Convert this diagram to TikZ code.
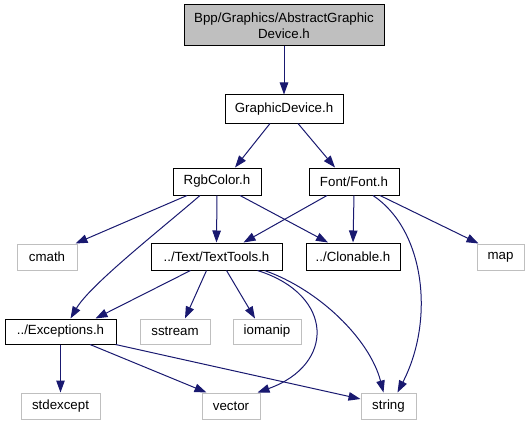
\documentclass[tikz,border=0pt]{standalone}
\usepackage{fontspec}
\setmainfont{Liberation Sans}
\usetikzlibrary{arrows.meta}
\definecolor{edgeblue}{HTML}{191970}
\definecolor{boxgray}{HTML}{BFBFBF}
\begin{document}
\begin{tikzpicture}[x=1pt,y=-1pt,
  every node/.style={font=\fontsize{13.3}{15.5}\selectfont, inner sep=0pt, align=center},
  filebox/.style={draw=black, line width=1pt, rectangle, minimum height=27pt},
  sysbox/.style={draw=boxgray, line width=1pt, rectangle, minimum height=26pt},
  topbox/.style={draw=black, fill=boxgray, line width=1pt, rectangle},
  edge/.style={draw=edgeblue, line width=1pt, -{Triangle[length=12pt,width=8.5pt]}}]
\path[use as bounding box] (0,0) rectangle (529,425);

\node[topbox, minimum width=200pt, minimum height=41pt] (top) at (284,25.5) {Bpp/Graphics/AbstractGraphic\\Device.h};
\node[filebox, minimum width=118pt, minimum height=28pt] (gd) at (284,109) {GraphicDevice.h};
\node[filebox, minimum width=88pt] (rgb) at (217,181.5) {RgbColor.h};
\node[filebox, minimum width=90pt] (font) at (354,181.5) {Font/Font.h};
\node[filebox, minimum width=131pt] (tt) at (216.5,256.5) {../Text/TextTools.h};
\node[filebox, minimum width=94pt] (clon) at (353,256.5) {../Clonable.h};
\node[sysbox, minimum width=60pt] (cmath) at (47,257) {cmath};
\node[sysbox, minimum width=47pt] (map) at (500.5,257) {map};
\node[filebox, minimum width=111pt, minimum height=25pt] (exc) at (60.5,331.5) {../Exceptions.h};
\node[sysbox, minimum width=70pt, minimum height=25pt] (sstream) at (175,331.5) {sstream};
\node[sysbox, minimum width=68pt, minimum height=25pt] (iomanip) at (267,331.5) {iomanip};
\node[sysbox, minimum width=79pt] (stdexcept) at (60.5,406) {stdexcept};
\node[sysbox, minimum width=58pt] (vector) at (231,406) {vector};
\node[sysbox, minimum width=55pt] (string) at (388.5,406) {string};

\draw[edge] (top.south) -- (gd.north);
\draw[edge] ([xshift=-14pt]gd.south) -- ([xshift=18pt]rgb.north);
\draw[edge] ([xshift=14pt]gd.south) -- ([xshift=-19pt]font.north);

\draw[edge] ([xshift=-30pt]rgb.south) -- ([xshift=-2pt]cmath.north east);
\draw[edge] ([xshift=-17pt]rgb.south) .. controls (160,230) and (90,285) .. ([xshift=10pt]exc.north);
\draw[edge] (rgb.south) -- (tt.north);
\draw[edge] ([xshift=23pt]rgb.south) -- ([xshift=-25pt]clon.north);

\draw[edge] ([xshift=-27pt]font.south) -- ([xshift=27pt]tt.north);
\draw[edge] (font.south) -- (clon.north);
\draw[edge] ([xshift=26pt]font.south) -- ([xshift=2pt]map.north west);
\draw[edge] ([xshift=19pt]font.south) .. controls (425,230) and (435,320) .. ([xshift=9pt]string.north);

\draw[edge] ([xshift=-26pt]tt.south) -- ([xshift=35pt]exc.north);
\draw[edge] ([xshift=-10pt]tt.south) -- ([xshift=10pt]sstream.north);
\draw[edge] ([xshift=10pt]tt.south) -- ([xshift=-12pt]iomanip.north);
\draw[edge] ([xshift=41pt]tt.south) .. controls (335,295) and (335,365) .. ([xshift=-3pt]vector.north east);
\draw[edge] ([xshift=48pt]tt.south) .. controls (320,290) and (370,340) .. ([xshift=-5pt]string.north);

\draw[edge] (exc.south) -- (stdexcept.north);
\draw[edge] ([xshift=29.5pt]exc.south) -- ([xshift=5pt]vector.north west);
\draw[edge] ([xshift=-1pt]exc.south east) -- ([yshift=7pt]string.west);
\end{tikzpicture}
\end{document}
